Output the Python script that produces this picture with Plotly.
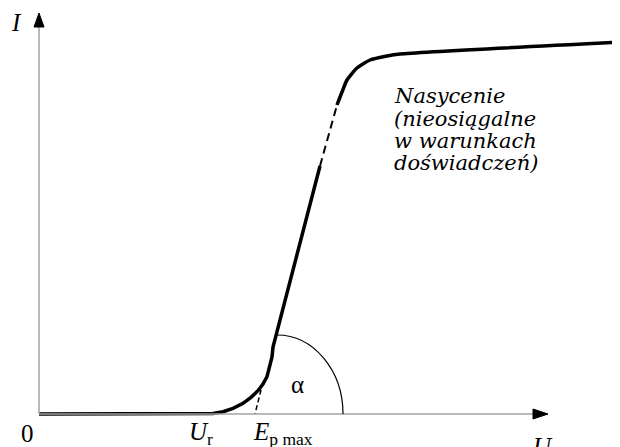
import plotly.graph_objects as go

# characteristic curve (U and I in arbitrary units)
u_low = [0.0, 16.1, 17.4, 18.4, 19.4, 20.4, 21.2, 21.9, 22.4, 22.8, 23.1,
         23.3, 23.4, 28.1]
i_low = [0.0, 0.0, 0.05, 0.23, 0.57, 1.07, 1.67, 2.33, 3.0, 3.73, 4.73,
         5.7, 6.7, 24.8]

u_gap = [28.1, 29.8]
i_gap = [24.8, 30.9]

u_high = [29.8, 30.3, 30.8, 31.8, 33.1, 34.8, 36.1, 58.5]
i_high = [30.9, 32.2, 33.4, 34.6, 35.4, 35.8, 36.0, 37.2]

# tangent extension down to the U axis
u_tan = [22.4, 21.6]
i_tan = [3.2, 0.0]

ep_max = 21.6
u_r = 16.1
u_end = 50.9
i_end = 40.1

note_lines = ["Nasycenie", "(nieosiągalne", "w warunkach", "doświadczeń)"]
note_y = [31.8, 29.55, 27.3, 25.1]

fig = go.Figure()

# axes
axis_col = "#a3a3a3"
fig.add_shape(type="line", x0=0, y0=0, x1=u_end - 1, y1=0,
              line=dict(color=axis_col, width=1.5))
fig.add_shape(type="line", x0=0, y0=0, x1=0, y1=i_end - 1,
              line=dict(color=axis_col, width=1.5))
fig.add_shape(type="path",
              path=f"M {u_end},0 L {u_end - 1.5},0.5 L {u_end - 1.5},-0.5 Z",
              fillcolor="black", line=dict(color="black", width=1))
fig.add_shape(type="path",
              path=f"M 0,{i_end} L -0.5,{i_end - 1.4} L 0.5,{i_end - 1.4} Z",
              fillcolor="black", line=dict(color="black", width=1))

# angle arc (quarter ellipse, bezier approx)
cx, rx, ry = 23.8, 6.6, 7.9
k = 0.5523
fig.add_shape(type="path",
              path=(f"M {cx},{ry} C {cx + k * rx},{ry} {cx + rx},{k * ry} "
                    f"{cx + rx},0"),
              line=dict(color="black", width=1.2))

fig.add_trace(go.Scatter(x=u_low, y=i_low, mode="lines",
                         line=dict(color="black", width=3.5),
                         hoverinfo="skip"))
fig.add_trace(go.Scatter(x=u_high, y=i_high, mode="lines",
                         line=dict(color="black", width=3.5, shape="spline",
                                   smoothing=0.6),
                         hoverinfo="skip"))
fig.add_trace(go.Scatter(x=u_gap, y=i_gap, mode="lines",
                         line=dict(color="black", width=2, dash="8px,5px"),
                         hoverinfo="skip"))
fig.add_trace(go.Scatter(x=u_tan, y=i_tan, mode="lines",
                         line=dict(color="black", width=1.5, dash="5px,3px"),
                         hoverinfo="skip"))

serif = "Liberation Serif"
labels = [
    (-1.2, -1.9, "0"),
    (u_r + 0.1, -1.9, "<i>U</i><sub>r</sub>"),
    (ep_max + 2.8, -1.95, "<i>E</i><sub>p max</sub>"),
    (u_end - 0.5, -3.2, "<i>U</i>"),
    (-2.3, 39.2, "<i>I</i>"),
    (25.8, 3.0, "α"),
]
for x, y, t in labels:
    fig.add_annotation(x=x, y=y, text=t, showarrow=False, yanchor="middle",
                       font=dict(family=serif, size=25, color="black"))

for t, y in zip(note_lines, note_y):
    fig.add_annotation(x=35.3, y=y, xanchor="left", yanchor="middle",
                       showarrow=False, text=f"<i>{t}</i>",
                       font=dict(family="DejaVu Serif", size=21,
                                 color="black"))

# page body keeps an 8px margin, so the figure is 8px smaller and the
# ranges start 8px further in
fig.update_layout(
    width=612, height=439,
    margin=dict(l=0, r=0, t=0, b=0),
    paper_bgcolor="white", plot_bgcolor="white",
    showlegend=False,
    xaxis=dict(range=[-3.1, 58.1], visible=False, fixedrange=True),
    yaxis=dict(range=[-3.3, 40.6], visible=False, fixedrange=True),
)

fig.write_html("out.html")
